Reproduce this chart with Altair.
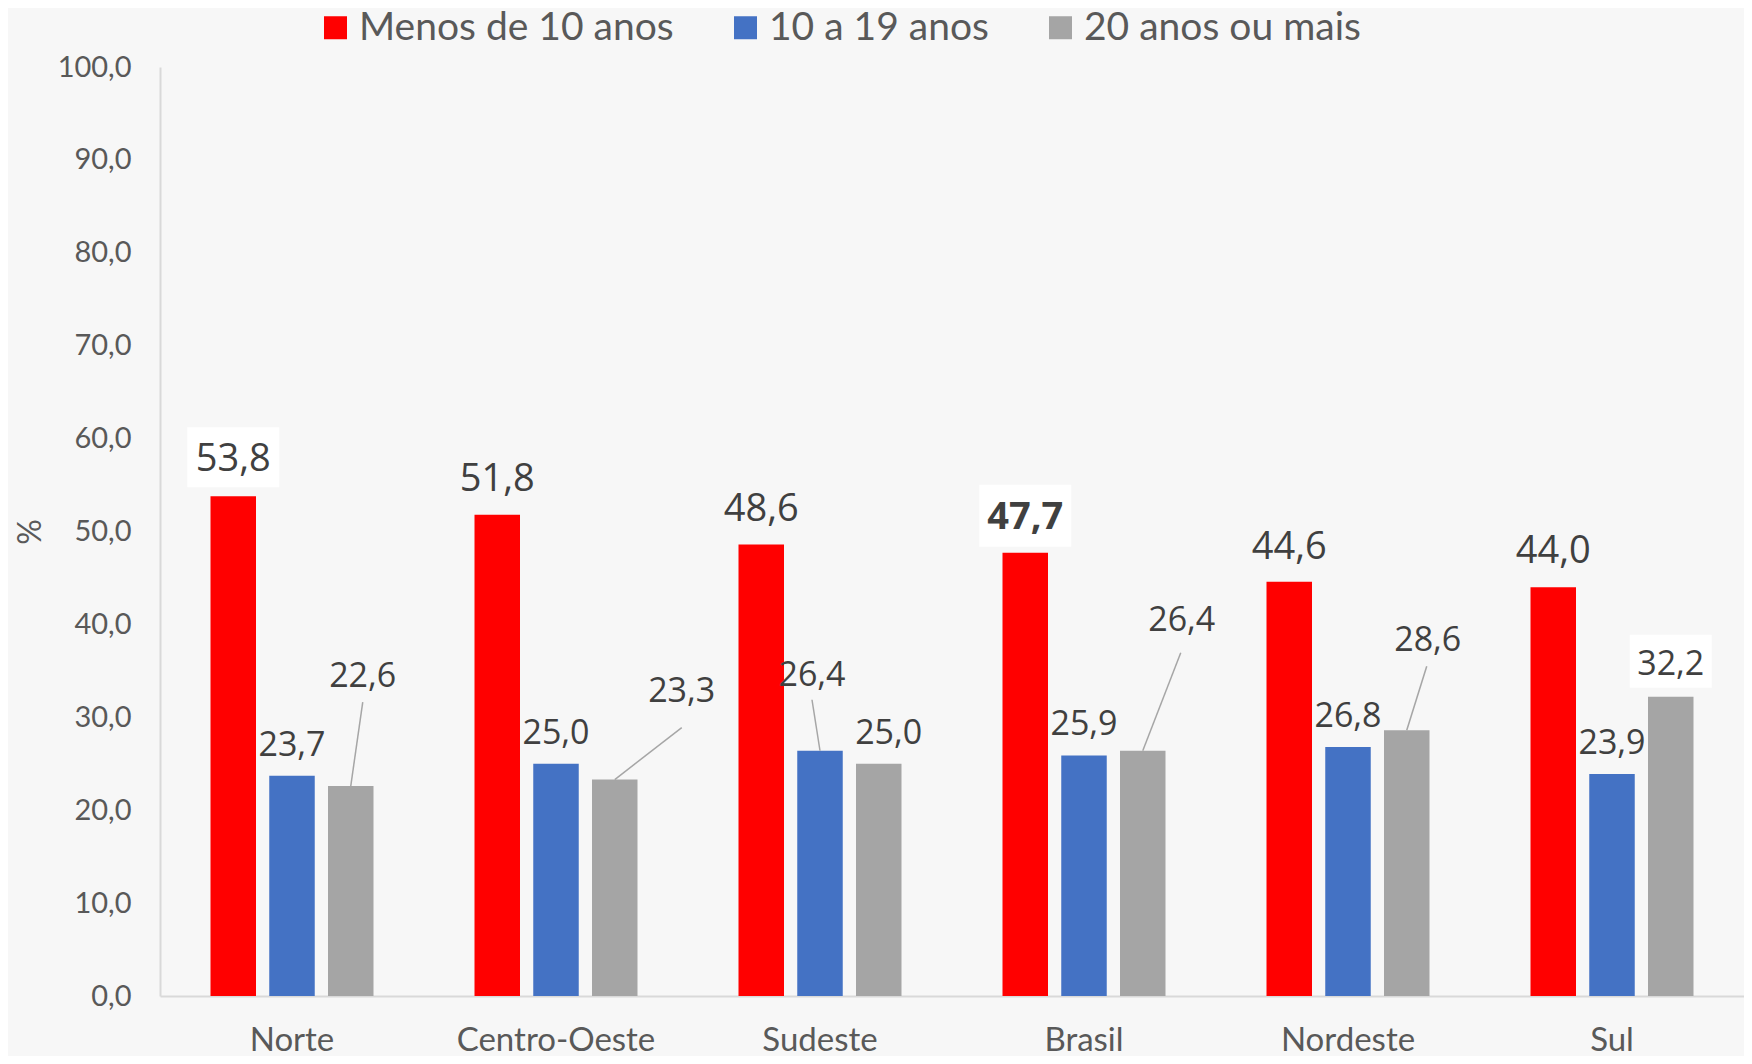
import altair as alt
import pandas as pd

# ---------------- data ----------------
regions = ["Norte", "Centro-Oeste", "Sudeste", "Brasil", "Nordeste", "Sul"]
series = ["Menos de 10 anos", "10 a 19 anos", "20 anos ou mais"]
menos_10 = [53.8, 51.8, 48.6, 47.7, 44.6, 44.0]
de_10_a_19 = [23.7, 25.0, 26.4, 25.9, 26.8, 23.9]
mais_20 = [22.6, 23.3, 25.0, 26.4, 28.6, 32.2]
y_ticks = [0, 10, 20, 30, 40, 50, 60, 70, 80, 90, 100]

# ---------------- style / layout ----------------
colors = ["#FF0000", "#4472C4", "#A5A5A5"]
W, H = 1584, 929
PAD_IN, PAD_OUT = 0.3826, 0.1913
SUB_PAD = 0.2255
GROUP_PX = W / len(regions)
PX_PER_UNIT = H / 100.0
SUB_STEP = (1 - PAD_IN) / (3 - SUB_PAD)  # in group units

# label offsets in px (dx, dy above bar top), keyed by (region index, series index)
label_off = {
    (0, 0): (0, 36), (1, 0): (0, 35), (2, 0): (0, 35), (3, 0): (0, 35), (4, 0): (0, 34), (5, 0): (0, 35),
    (0, 1): (0, 30), (1, 1): (0, 30), (2, 1): (-8, 75), (3, 1): (0, 30), (4, 1): (0, 30), (5, 1): (0, 30),
    (0, 2): (12, 109), (1, 2): (67, 88), (2, 2): (10, 30), (3, 2): (39, 130), (4, 2): (21, 89), (5, 2): (0, 32),
}
# leader line end points in px (dx, dy above bar top)
leader_off = {(0, 2): (12, 84), (1, 2): (67, 52), (2, 1): (-8, 51), (3, 2): (38, 98), (4, 2): (20, 64)}
# white label boxes: (dy of center, width, height) in px
box_off = {(0, 0): (39, 92, 60), (3, 0): (37, 92, 62), (5, 2): (35.5, 82, 53)}

values = [menos_10, de_10_a_19, mais_20]

rows, lab_rows, lead_rows, box_rows = [], [], [], []
for i, reg in enumerate(regions):
    for k, ser in enumerate(series):
        v = values[k][i]
        rows.append({"region": reg, "series": ser, "value": v})
        cx = i + 0.5 + (k - 1) * SUB_STEP
        dx, dy = label_off[(i, k)]
        lab_rows.append({
            "lx": cx + dx / GROUP_PX, "ly": v + dy / PX_PER_UNIT,
            "txt": f"{v:.1f}".replace(".", ","),
            "kind": ("bold" if (k == 0 and reg == "Brasil") else ("big" if k == 0 else "small")),
        })
        if (i, k) in leader_off:
            ex, ey = leader_off[(i, k)]
            lead_rows.append({"x1": cx, "y1": v, "x2": cx + ex / GROUP_PX, "y2": v + ey / PX_PER_UNIT})
        if (i, k) in box_off:
            by, bw, bh = box_off[(i, k)]
            yc = v + by / PX_PER_UNIT
            box_rows.append({
                "bx1": cx - bw / 2 / GROUP_PX, "bx2": cx + bw / 2 / GROUP_PX,
                "by1": yc - bh / 2 / PX_PER_UNIT, "by2": yc + bh / 2 / PX_PER_UNIT,
            })

df = pd.DataFrame(rows)
df_lab = pd.DataFrame(lab_rows)
df_lead = pd.DataFrame(lead_rows)
df_box = pd.DataFrame(box_rows)

yscale = alt.Scale(domain=[0, 100], nice=False, zero=True)
oxscale = alt.Scale(domain=[0, len(regions)], nice=False, zero=False)

bars = alt.Chart(df).mark_bar().encode(
    x=alt.X("region:N", sort=regions,
            scale=alt.Scale(paddingInner=PAD_IN, paddingOuter=PAD_OUT),
            axis=alt.Axis(title=None, labelAngle=0, ticks=False, grid=False,
                          domainColor="#D9D9D9", domainWidth=2,
                          labelFont="Lato", labelFontSize=33, labelColor="#595959",
                          labelLimit=0,
                          labelBaseline="middle", labelPadding=44)),
    xOffset=alt.XOffset("series:N", sort=series,
                        scale=alt.Scale(paddingInner=SUB_PAD, paddingOuter=0)),
    y=alt.Y("value:Q", scale=yscale,
            axis=alt.Axis(title="%", values=y_ticks, grid=False, ticks=False,
                          domainColor="#D9D9D9", domainWidth=2,
                          labelExpr="replace(format(datum.value, '.1f'), '.', ',')",
                          labelFont="Lato", labelFontSize=29, labelColor="#595959",
                          labelPadding=29,
                          titleFont="Lato", titleFontSize=32, titleFontWeight="normal",
                          titleColor="#595959", titleAngle=-90, titleX=-130, titleY=H / 2,
                          titleAlign="center", titleBaseline="middle")),
    color=alt.Color("series:N", sort=series,
                    scale=alt.Scale(domain=series, range=colors),
                    legend=alt.Legend(title=None, orient="none", direction="horizontal",
                                      legendX=156, legendY=-59, padding=0,
                                      symbolType="square", symbolSize=529, symbolStrokeWidth=0,
                                      labelFont="Lato", labelFontSize=39, labelColor="#595959",
                                      labelLimit=0,
                                      labelOffset=4, columnPadding=52)),
)

boxes = alt.Chart(df_box).mark_rect(color="white").encode(
    x=alt.X("bx1:Q", scale=oxscale, axis=None), x2="bx2:Q",
    y=alt.Y("by1:Q", scale=yscale, axis=None), y2="by2:Q",
)

leaders = alt.Chart(df_lead).mark_rule(color="#A6A6A6", strokeWidth=1.5).encode(
    x=alt.X("x1:Q", scale=oxscale, axis=None), x2="x2:Q",
    y=alt.Y("y1:Q", scale=yscale, axis=None), y2="y2:Q",
)

def text_layer(kind, size, weight):
    return alt.Chart(df_lab).transform_filter(
        alt.datum.kind == kind
    ).mark_text(font="Open Sans", fontSize=size, fontWeight=weight, color="#404040",
                align="center", baseline="middle").encode(
        x=alt.X("lx:Q", scale=oxscale, axis=None),
        y=alt.Y("ly:Q", scale=yscale, axis=None),
        text="txt:N",
    )

labels_big = text_layer("big", 38, "normal")
labels_bold = text_layer("bold", 38, "bold")
labels_small = text_layer("small", 34, "normal")

chart = alt.layer(bars, boxes, leaders, labels_big, labels_bold, labels_small).resolve_scale(
    x="independent"
).resolve_axis(
    x="independent", y="independent"
).properties(
    width=W, height=H,
    background="#F7F7F7",
    autosize=alt.AutoSizeParams(type="none"),
    padding={"left": 152, "top": 59, "right": 0, "bottom": 60},
).configure_view(strokeWidth=0)

chart.save("out.html", embed_options={"renderer": "svg", "actions": False})
